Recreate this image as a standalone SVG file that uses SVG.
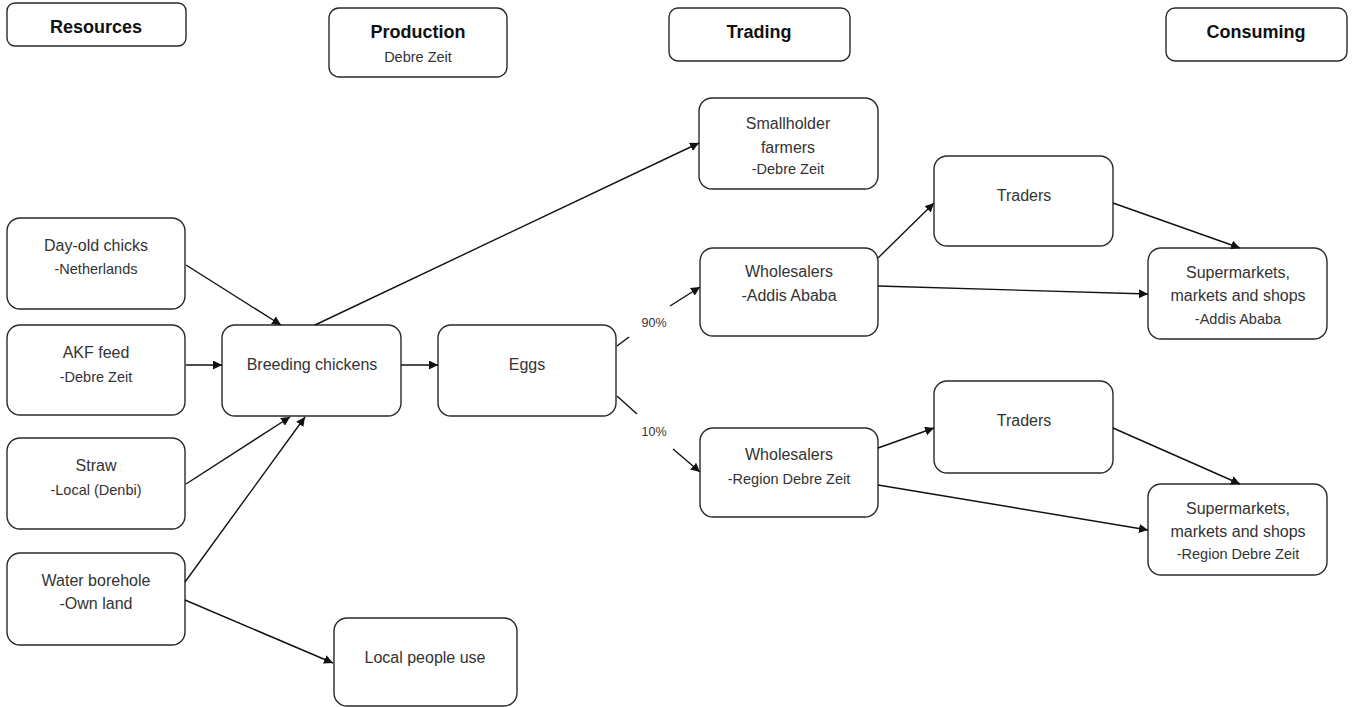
<svg xmlns="http://www.w3.org/2000/svg" width="1355" height="707" viewBox="0 0 1355 707">
  <defs>
    <marker id="arrow" viewBox="0 0 10 10" refX="10" refY="5" markerWidth="9" markerHeight="9" markerUnits="userSpaceOnUse" orient="auto">
      <path d="M0,0 L10,5 L0,10 z" fill="#111"/>
    </marker>
    <style>
      .box { fill: #fff; stroke: #2a2a2a; stroke-width: 1.4; }
      .hdr { font-family: "Liberation Sans", Arial, sans-serif; font-size: 18px; font-weight: bold; fill: #111; text-anchor: middle; }
      .t { font-family: "Liberation Sans", Arial, sans-serif; font-size: 16px; fill: #333; text-anchor: middle; }
      .s { font-family: "Liberation Sans", Arial, sans-serif; font-size: 14.5px; fill: #333; text-anchor: middle; }
      .lbl { font-family: "Liberation Sans", Arial, sans-serif; font-size: 12.5px; fill: #333; text-anchor: middle; }
      .c { stroke: #111; stroke-width: 1.4; fill: none; }
      .a { marker-end: url(#arrow); }
    </style>
  </defs>
  <rect width="1355" height="707" fill="#fff"/>

  <!-- column headers -->
  <g id="hdr-resources">
    <rect class="box" x="7" y="3" width="179" height="43" rx="8"/>
    <text class="hdr" x="96" y="33">Resources</text>
  </g>
  <g id="hdr-production">
    <rect class="box" x="329" y="8" width="178" height="69" rx="10"/>
    <text class="hdr" x="418" y="38">Production</text>
    <text class="s" x="418" y="62">Debre Zeit</text>
  </g>
  <g id="hdr-trading">
    <rect class="box" x="669" y="8" width="181" height="53" rx="9"/>
    <text class="hdr" x="759" y="37.5">Trading</text>
  </g>
  <g id="hdr-consuming">
    <rect class="box" x="1166" y="8" width="181" height="53" rx="9"/>
    <text class="hdr" x="1256" y="37.5">Consuming</text>
  </g>

  <!-- resources -->
  <g id="day-old-chicks">
    <rect class="box" x="7" y="218" width="178" height="91" rx="13"/>
    <text class="t" x="96" y="251">Day-old chicks</text>
    <text class="s" x="96" y="273.5">-Netherlands</text>
  </g>
  <g id="akf-feed">
    <rect class="box" x="7" y="325" width="178" height="90" rx="13"/>
    <text class="t" x="96" y="358">AKF feed</text>
    <text class="s" x="96" y="381.5">-Debre Zeit</text>
  </g>
  <g id="straw">
    <rect class="box" x="7" y="438" width="178" height="91" rx="13"/>
    <text class="t" x="96" y="471">Straw</text>
    <text class="s" x="96" y="494.5">-Local (Denbi)</text>
  </g>
  <g id="water-borehole">
    <rect class="box" x="7" y="553" width="178" height="92" rx="13"/>
    <text class="t" x="96" y="586">Water borehole</text>
    <text class="t" x="96" y="609">-Own land</text>
  </g>

  <!-- production -->
  <g id="breeding-chickens">
    <rect class="box" x="222" y="325" width="179" height="91" rx="13"/>
    <text class="t" x="312" y="370">Breeding chickens</text>
  </g>
  <g id="eggs">
    <rect class="box" x="438" y="325" width="178" height="91" rx="13"/>
    <text class="t" x="527" y="370">Eggs</text>
  </g>
  <g id="local-people-use">
    <rect class="box" x="334" y="618" width="183" height="88" rx="13"/>
    <text class="t" x="425" y="663">Local people use</text>
  </g>

  <!-- trading -->
  <g id="smallholder-farmers">
    <rect class="box" x="699" y="98" width="179" height="91" rx="13"/>
    <text class="t" x="788" y="129">Smallholder</text>
    <text class="t" x="788" y="153">farmers</text>
    <text class="s" x="788" y="173.5">-Debre Zeit</text>
  </g>
  <g id="wholesalers-addis">
    <rect class="box" x="700" y="248" width="178" height="88" rx="13"/>
    <text class="t" x="789" y="277">Wholesalers</text>
    <text class="t" x="789" y="301">-Addis Ababa</text>
  </g>
  <g id="wholesalers-region">
    <rect class="box" x="700" y="428" width="178" height="89" rx="13"/>
    <text class="t" x="789" y="460">Wholesalers</text>
    <text class="s" x="789" y="483.5">-Region Debre Zeit</text>
  </g>
  <g id="traders-1">
    <rect class="box" x="934" y="156" width="179" height="90" rx="13"/>
    <text class="t" x="1024" y="201">Traders</text>
  </g>
  <g id="traders-2">
    <rect class="box" x="934" y="381" width="179" height="92" rx="13"/>
    <text class="t" x="1024" y="426">Traders</text>
  </g>

  <!-- consuming -->
  <g id="shops-addis">
    <rect class="box" x="1148" y="248" width="179" height="91" rx="13"/>
    <text class="t" x="1238" y="278">Supermarkets,</text>
    <text class="t" x="1238" y="301">markets and shops</text>
    <text class="s" x="1238" y="323.5">-Addis Ababa</text>
  </g>
  <g id="shops-region">
    <rect class="box" x="1148" y="484" width="179" height="91" rx="13"/>
    <text class="t" x="1238" y="514">Supermarkets,</text>
    <text class="t" x="1238" y="537">markets and shops</text>
    <text class="s" x="1238" y="558.5">-Region Debre Zeit</text>
  </g>

  <!-- connectors -->
  <g id="connectors">
    <line class="c a" x1="186" y1="265" x2="281" y2="325"/>
    <line class="c a" x1="186" y1="365" x2="222" y2="365"/>
    <line class="c a" x1="186" y1="484" x2="290" y2="417"/>
    <line class="c a" x1="185" y1="582" x2="305" y2="417"/>
    <line class="c a" x1="185" y1="600" x2="333" y2="663"/>
    <line class="c a" x1="315" y1="325" x2="699" y2="143"/>
    <line class="c a" x1="401" y1="365" x2="438" y2="365"/>
    <line class="c" x1="617" y1="346" x2="629" y2="337"/>
    <line class="c a" x1="670" y1="306" x2="700" y2="287"/>
    <line class="c" x1="617" y1="396" x2="637" y2="414"/>
    <line class="c a" x1="673" y1="449" x2="700" y2="472"/>
    <line class="c a" x1="878" y1="258" x2="934" y2="203"/>
    <line class="c a" x1="878" y1="286" x2="1148" y2="294"/>
    <line class="c a" x1="1113" y1="203" x2="1240" y2="248"/>
    <line class="c a" x1="878" y1="448" x2="934" y2="428"/>
    <line class="c a" x1="878" y1="485" x2="1148" y2="530"/>
    <line class="c a" x1="1113" y1="428" x2="1240" y2="484"/>
    <text class="lbl" x="654" y="327">90%</text>
    <text class="lbl" x="654" y="436">10%</text>
  </g>
</svg>
